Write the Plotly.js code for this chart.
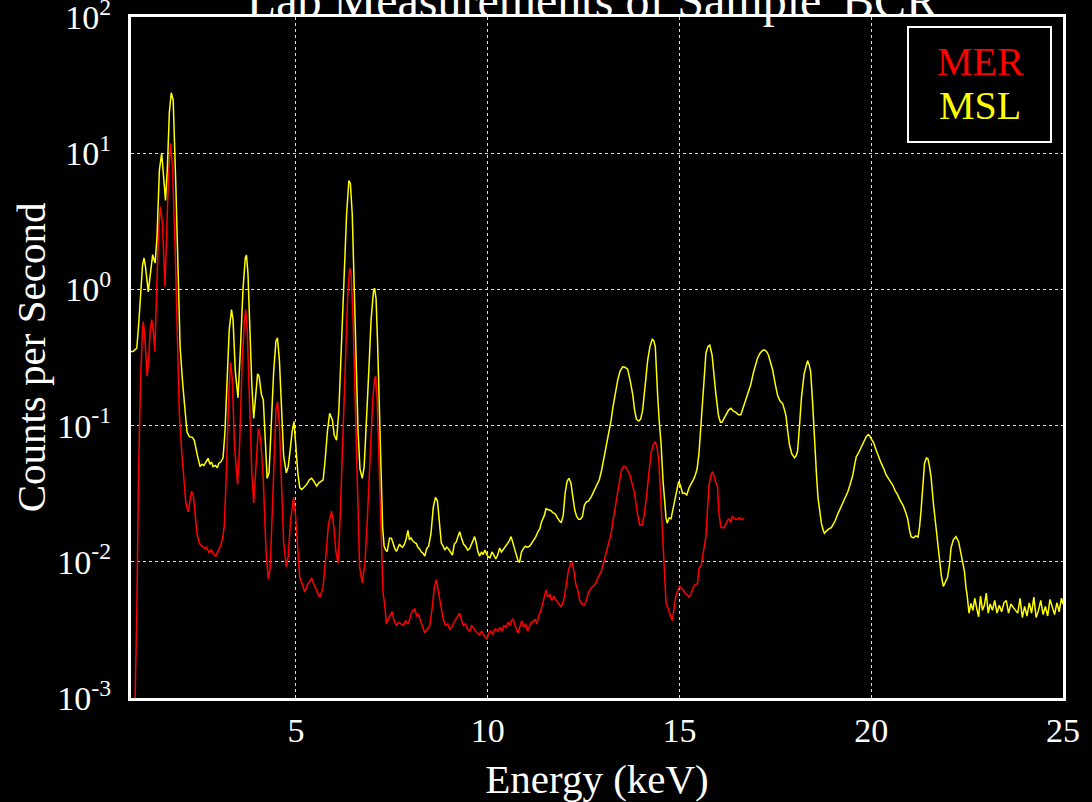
<!DOCTYPE html>
<html>
<head>
<meta charset="utf-8">
<script src="https://cdn.plot.ly/plotly-3.0.1.min.js"></script>
<style>html,body{margin:0;padding:0;background:#000;}#chart{width:1092px;height:802px;}</style>
</head>
<body>
<div id="chart"></div>
<script>
// Series names and colours
const seriesNames = ['MER', 'MSL'];
const seriesColors = ['#ff0000', '#ffff00'];

// Axis ticks
const xTickVals = [5, 10, 15, 20, 25];
const yTickVals = [0.001, 0.01, 0.1, 1, 10, 100];
const yTickText = ['10<sup>-3</sup>', '10<sup>-2</sup>', '10<sup>-1</sup>', '10<sup>0</sup>', '10<sup>1</sup>', '10<sup>2</sup>'];

// MSL spectrum: [energy keV, counts per second]
const mslPoints = [
[0.70,0.35],[0.75,0.35],[0.80,0.36],[0.85,0.37],[0.90,0.55],[0.95,1.0],[1.00,1.5],[1.04,1.7],[1.08,1.45],[1.15,0.96],
[1.20,1.3],[1.265,1.8],[1.30,1.65],[1.33,1.56],[1.38,2.5],[1.44,7.5],[1.50,10.0],[1.55,7.0],[1.60,4.5],[1.65,8],
[1.70,20],[1.75,27.8],[1.80,24.5],[1.87,5.7],[1.93,1.2],[1.98,0.38],[2.05,0.2],[2.11,0.13],[2.16,0.09],[2.22,0.083],
[2.30,0.082],[2.35,0.078],[2.40,0.065],[2.44,0.059],[2.50,0.050],[2.55,0.052],[2.60,0.051],[2.67,0.056],[2.71,0.0575],[2.76,0.052],
[2.80,0.054],[2.84,0.050],[2.90,0.051],[2.95,0.049],[2.99,0.053],[3.04,0.054],[3.10,0.058],[3.15,0.09],[3.20,0.2],[3.26,0.5],
[3.32,0.71],[3.36,0.6],[3.42,0.25],[3.49,0.16],[3.55,0.35],[3.62,1.0],[3.68,1.7],[3.71,1.79],[3.75,1.3],[3.80,0.5],
[3.85,0.2],[3.90,0.113],[3.95,0.16],[4.00,0.24],[4.04,0.23],[4.10,0.17],[4.15,0.154],[4.20,0.08],[4.25,0.041],[4.30,0.045],
[4.36,0.1],[4.42,0.25],[4.48,0.42],[4.52,0.44],[4.57,0.3],[4.62,0.13],[4.68,0.06],[4.75,0.045],[4.80,0.05],[4.86,0.07],
[4.90,0.09],[4.95,0.107],[5.00,0.07],[5.05,0.045],[5.10,0.035],[5.15,0.034],[5.20,0.035],[5.28,0.037],[5.35,0.040],[5.41,0.041],
[5.47,0.039],[5.54,0.036],[5.60,0.038],[5.66,0.039],[5.71,0.040],[5.76,0.055],[5.82,0.09],[5.88,0.123],[5.95,0.11],[6.00,0.085],
[6.06,0.078],[6.12,0.13],[6.18,0.35],[6.25,1.2],[6.32,3.5],[6.38,6.3],[6.42,6.0],[6.47,3.5],[6.52,1.0],[6.57,0.3],
[6.62,0.09],[6.67,0.048],[6.73,0.041],[6.78,0.05],[6.84,0.1],[6.90,0.25],[6.96,0.6],[7.02,0.95],[7.05,1.02],[7.09,0.85],
[7.13,0.4],[7.18,0.12],[7.22,0.04],[7.26,0.018],[7.30,0.013],[7.34,0.0122],[7.38,0.0119],[7.44,0.0149],[7.49,0.0149],[7.53,0.0135],
[7.58,0.0125],[7.62,0.0119],[7.66,0.0128],[7.70,0.0135],[7.74,0.013],[7.78,0.0128],[7.82,0.0133],[7.87,0.0145],[7.92,0.017],[7.96,0.0145],
[8.00,0.015],[8.05,0.0142],[8.10,0.0138],[8.14,0.0136],[8.18,0.0128],[8.22,0.0125],[8.27,0.0118],[8.32,0.0115],[8.36,0.011],[8.41,0.0125],
[8.46,0.013],[8.52,0.016],[8.58,0.025],[8.64,0.0297],[8.69,0.028],[8.74,0.02],[8.79,0.0138],[8.84,0.013],[8.88,0.0122],[8.93,0.0128],
[8.98,0.0124],[9.03,0.0118],[9.08,0.0112],[9.13,0.0135],[9.18,0.014],[9.23,0.0155],[9.27,0.0166],[9.32,0.0148],[9.37,0.0135],[9.42,0.013],
[9.48,0.0122],[9.53,0.0125],[9.58,0.0135],[9.62,0.0145],[9.66,0.0153],[9.70,0.0138],[9.74,0.012],[9.79,0.011],[9.84,0.0118],[9.88,0.0113],
[9.93,0.0122],[9.97,0.0114],[10.02,0.0108],[10.06,0.0107],[10.11,0.0118],[10.16,0.0112],[10.21,0.0105],[10.26,0.0112],[10.31,0.0126],[10.36,0.0118],
[10.41,0.0123],[10.46,0.013],[10.51,0.0135],[10.56,0.0142],[10.61,0.0153],[10.66,0.0138],[10.70,0.0128],[10.75,0.0115],[10.79,0.0102],[10.83,0.0099],
[10.88,0.0118],[10.93,0.0125],[10.98,0.013],[11.03,0.0128],[11.09,0.013],[11.14,0.0136],[11.19,0.0142],[11.25,0.0152],[11.31,0.0166],[11.36,0.0175],
[11.40,0.0195],[11.44,0.0205],[11.48,0.022],[11.52,0.0245],[11.58,0.0242],[11.64,0.0238],[11.70,0.023],[11.76,0.0225],[11.82,0.021],[11.88,0.0198],
[11.92,0.0195],[11.97,0.022],[12.02,0.032],[12.07,0.039],[12.12,0.041],[12.17,0.038],[12.22,0.03],[12.27,0.024],[12.32,0.0215],[12.37,0.0205],
[12.42,0.0205],[12.47,0.0215],[12.52,0.026],[12.57,0.0274],[12.63,0.028],[12.70,0.030],[12.77,0.033],[12.84,0.036],[12.91,0.040],[12.97,0.047],
[13.04,0.059],[13.10,0.072],[13.17,0.088],[13.22,0.11],[13.26,0.134],[13.32,0.17],[13.39,0.216],[13.45,0.25],[13.52,0.27],[13.58,0.268],
[13.65,0.26],[13.72,0.21],[13.78,0.17],[13.83,0.13],[13.88,0.111],[13.94,0.108],[13.99,0.112],[14.04,0.13],[14.09,0.17],[14.13,0.23],
[14.17,0.30],[14.23,0.38],[14.29,0.43],[14.33,0.42],[14.37,0.38],[14.40,0.28],[14.43,0.17],[14.47,0.11],[14.52,0.074],[14.57,0.04],
[14.61,0.027],[14.65,0.021],[14.68,0.0192],[14.73,0.021],[14.78,0.0207],[14.83,0.024],[14.87,0.027],[14.92,0.033],[14.98,0.039],[15.03,0.036],
[15.08,0.0318],[15.13,0.032],[15.19,0.031],[15.25,0.035],[15.30,0.037],[15.36,0.04],[15.41,0.043],[15.46,0.048],[15.51,0.063],[15.56,0.1],
[15.61,0.19],[15.65,0.27],[15.69,0.34],[15.74,0.38],[15.79,0.39],[15.85,0.33],[15.90,0.23],[15.95,0.17],[16.02,0.117],[16.07,0.106],
[16.11,0.106],[16.16,0.112],[16.22,0.12],[16.28,0.13],[16.34,0.134],[16.40,0.128],[16.47,0.125],[16.54,0.12],[16.60,0.12],[16.66,0.135],
[16.73,0.154],[16.80,0.175],[16.86,0.2],[16.92,0.24],[16.98,0.28],[17.03,0.31],[17.10,0.34],[17.16,0.355],[17.21,0.36],[17.27,0.35],
[17.32,0.33],[17.38,0.29],[17.43,0.256],[17.50,0.2],[17.56,0.166],[17.62,0.152],[17.69,0.145],[17.74,0.13],[17.78,0.117],[17.82,0.092],
[17.87,0.072],[17.93,0.062],[18.00,0.058],[18.04,0.06],[18.08,0.065],[18.13,0.1],[18.18,0.16],[18.25,0.24],[18.30,0.28],[18.34,0.30],
[18.38,0.28],[18.42,0.25],[18.47,0.15],[18.52,0.075],[18.57,0.045],[18.61,0.030],[18.66,0.023],[18.70,0.0192],[18.75,0.017],[18.78,0.0162],
[18.83,0.0168],[18.90,0.0175],[18.96,0.0178],[19.00,0.0186],[19.06,0.02],[19.13,0.0225],[19.20,0.025],[19.26,0.0274],[19.33,0.03],[19.39,0.0327],
[19.45,0.037],[19.52,0.0434],[19.57,0.052],[19.61,0.059],[19.68,0.064],[19.74,0.0697],[19.80,0.076],[19.87,0.083],[19.92,0.086],[19.96,0.084],
[20.00,0.08],[20.06,0.075],[20.13,0.066],[20.20,0.058],[20.26,0.053],[20.33,0.048],[20.39,0.0434],[20.47,0.04],[20.56,0.0366],[20.63,0.033],
[20.69,0.031],[20.76,0.028],[20.83,0.026],[20.90,0.023],[20.95,0.0207],[21.00,0.017],[21.04,0.0153],[21.10,0.015],[21.16,0.0155],[21.22,0.0152],
[21.26,0.018],[21.30,0.024],[21.35,0.04],[21.39,0.053],[21.44,0.058],[21.48,0.057],[21.52,0.05],[21.56,0.042],[21.62,0.027],[21.69,0.0173],
[21.74,0.013],[21.78,0.010],[21.83,0.0078],[21.88,0.0066],[21.94,0.0072],[21.99,0.0077],[22.04,0.0095],[22.08,0.0126],[22.14,0.0145],[22.21,0.0153],
[22.28,0.014],[22.34,0.0113],[22.40,0.0095],[22.43,0.0085],[22.47,0.0065],[22.50,0.0057],[22.55,0.0042],[22.60,0.00495],[22.65,0.0044],[22.70,0.0054],
[22.75,0.00455],[22.80,0.00395],[22.85,0.0056],[22.90,0.0044],[22.95,0.0048],[23.00,0.0059],[23.05,0.0042],[23.10,0.0049],[23.16,0.0044],[23.22,0.0052],
[23.28,0.0042],[23.34,0.0048],[23.40,0.0043],[23.46,0.0050],[23.52,0.0052],[23.58,0.0042],[23.64,0.0049],[23.70,0.0046],[23.76,0.0044],[23.82,0.0042],
[23.88,0.0054],[23.94,0.0039],[24.00,0.0047],[24.06,0.0040],[24.12,0.0050],[24.18,0.0042],[24.24,0.0055],[24.30,0.0039],[24.36,0.0044],[24.42,0.0052],
[24.48,0.0041],[24.54,0.0047],[24.60,0.0040],[24.66,0.0053],[24.72,0.0046],[24.78,0.0041],[24.84,0.0050],[24.90,0.0043],[24.96,0.0054],[25.00,0.0049]
];

// MER spectrum: [energy keV, counts per second]
const merPoints = [
[0.80,0.0008],[0.85,0.004],[0.90,0.05],[0.95,0.22],[1.00,0.5],[1.02,0.58],[1.06,0.45],[1.12,0.23],[1.16,0.3],[1.20,0.5],
[1.24,0.6],[1.28,0.5],[1.32,0.35],[1.37,1.0],[1.42,2.8],[1.47,4.05],[1.52,3.0],[1.585,1.05],[1.63,2.5],[1.68,7],
[1.73,11.8],[1.78,8],[1.85,2.06],[1.90,0.6],[1.96,0.123],[2.03,0.06],[2.09,0.035],[2.13,0.027],[2.19,0.0233],[2.24,0.029],
[2.28,0.033],[2.33,0.03],[2.38,0.022],[2.42,0.0162],[2.47,0.014],[2.52,0.0132],[2.57,0.013],[2.62,0.0125],[2.67,0.0128],[2.74,0.0116],
[2.79,0.0123],[2.84,0.0115],[2.91,0.011],[2.96,0.0118],[3.00,0.0125],[3.04,0.0132],[3.09,0.015],[3.13,0.0181],[3.18,0.04],[3.22,0.095],
[3.26,0.2],[3.30,0.29],[3.34,0.22],[3.40,0.07],[3.48,0.037],[3.53,0.07],[3.60,0.3],[3.66,0.6],[3.69,0.71],[3.73,0.5],
[3.79,0.15],[3.85,0.045],[3.90,0.027],[3.95,0.05],[4.00,0.09],[4.02,0.095],[4.08,0.08],[4.15,0.04],[4.22,0.012],[4.28,0.0075],
[4.33,0.009],[4.38,0.025],[4.44,0.08],[4.48,0.13],[4.52,0.15],[4.57,0.1],[4.62,0.04],[4.68,0.014],[4.75,0.0092],[4.80,0.011],
[4.86,0.02],[4.94,0.0297],[4.99,0.022],[5.05,0.011],[5.10,0.0076],[5.17,0.0068],[5.23,0.006],[5.30,0.0068],[5.36,0.0072],[5.41,0.0076],
[5.47,0.0068],[5.54,0.0062],[5.62,0.0055],[5.67,0.006],[5.71,0.0066],[5.78,0.011],[5.85,0.019],[5.93,0.0235],[5.99,0.018],[6.04,0.012],
[6.10,0.0098],[6.15,0.02],[6.22,0.08],[6.29,0.35],[6.35,0.9],[6.40,1.43],[6.44,1.3],[6.49,0.6],[6.55,0.15],[6.60,0.03],
[6.66,0.0092],[6.73,0.0070],[6.80,0.0098],[6.86,0.02],[6.93,0.06],[7.00,0.15],[7.05,0.22],[7.08,0.23],[7.12,0.15],[7.17,0.05],
[7.22,0.014],[7.27,0.006],[7.32,0.0047],[7.36,0.0035],[7.41,0.0038],[7.46,0.0040],[7.51,0.0043],[7.56,0.0037],[7.62,0.0034],[7.68,0.0036],
[7.75,0.0035],[7.80,0.0034],[7.86,0.0037],[7.92,0.0035],[7.97,0.0038],[8.01,0.0042],[8.05,0.0044],[8.10,0.0045],[8.15,0.0040],[8.20,0.0041],
[8.26,0.0036],[8.31,0.0033],[8.36,0.003],[8.42,0.0032],[8.49,0.0034],[8.55,0.0045],[8.61,0.0065],[8.66,0.0074],[8.71,0.0062],[8.75,0.0052],
[8.79,0.0048],[8.84,0.0038],[8.90,0.0034],[8.96,0.0035],[9.01,0.0032],[9.06,0.0033],[9.12,0.0036],[9.17,0.0038],[9.22,0.004],[9.27,0.0042],
[9.32,0.0037],[9.37,0.0034],[9.42,0.0035],[9.48,0.0032],[9.53,0.0031],[9.58,0.0034],[9.63,0.0033],[9.68,0.0031],[9.74,0.003],[9.79,0.0029],
[9.84,0.0031],[9.89,0.0029],[9.93,0.0028],[9.98,0.0027],[10.03,0.003],[10.08,0.0031],[10.13,0.0029],[10.18,0.0032],[10.22,0.0032],[10.27,0.0031],
[10.32,0.0033],[10.37,0.0031],[10.42,0.0034],[10.48,0.0033],[10.53,0.0036],[10.58,0.0034],[10.62,0.0037],[10.66,0.0038],[10.71,0.0034],[10.75,0.0032],
[10.79,0.003],[10.84,0.0034],[10.89,0.0037],[10.94,0.0033],[10.99,0.0035],[11.04,0.0031],[11.09,0.0034],[11.14,0.0036],[11.18,0.0036],[11.23,0.0038],
[11.28,0.0035],[11.33,0.004],[11.39,0.0044],[11.45,0.0052],[11.52,0.0062],[11.57,0.0055],[11.62,0.0058],[11.67,0.0052],[11.72,0.0056],[11.77,0.0053],
[11.83,0.0050],[11.88,0.0048],[11.92,0.0047],[11.98,0.0052],[12.04,0.0065],[12.10,0.0085],[12.16,0.0097],[12.20,0.0099],[12.25,0.0085],[12.30,0.0068],
[12.35,0.0062],[12.40,0.0052],[12.46,0.0049],[12.52,0.0048],[12.57,0.0052],[12.63,0.006],[12.69,0.0064],[12.74,0.0066],[12.80,0.0068],[12.86,0.0075],
[12.92,0.008],[12.96,0.0085],[13.02,0.0098],[13.09,0.0119],[13.15,0.014],[13.22,0.0162],[13.28,0.021],[13.35,0.0284],[13.41,0.037],[13.48,0.046],
[13.54,0.05],[13.59,0.05],[13.65,0.047],[13.71,0.043],[13.77,0.037],[13.83,0.0318],[13.90,0.023],[13.96,0.0186],[14.02,0.0185],[14.08,0.022],
[14.13,0.0284],[14.19,0.04],[14.26,0.063],[14.31,0.072],[14.37,0.076],[14.42,0.068],[14.46,0.056],[14.51,0.03],[14.56,0.0153],[14.61,0.008],
[14.65,0.005],[14.70,0.0046],[14.74,0.0043],[14.78,0.004],[14.81,0.0037],[14.86,0.0045],[14.90,0.0055],[14.95,0.0061],[15.00,0.0066],[15.05,0.0064],
[15.10,0.0062],[15.16,0.0058],[15.21,0.0057],[15.25,0.0055],[15.30,0.0058],[15.36,0.0065],[15.41,0.0068],[15.47,0.0069],[15.51,0.009],[15.56,0.0092],
[15.60,0.011],[15.65,0.0138],[15.69,0.0153],[15.73,0.024],[15.77,0.0362],[15.82,0.043],[15.86,0.046],[15.91,0.042],[15.95,0.038],[15.99,0.0362],
[16.03,0.0227],[16.08,0.018],[16.11,0.0178],[16.16,0.0178],[16.21,0.019],[16.27,0.0205],[16.30,0.0205],[16.34,0.0195],[16.37,0.0214],[16.42,0.021],
[16.48,0.0205],[16.53,0.0208],[16.58,0.021],[16.62,0.0203],[16.65,0.0205],[16.68,0.021]
];

const FONT = '"Liberation Serif", "Times New Roman", serif';

const traces = [merPoints, mslPoints].map((pts, i) => ({
  type: 'scatter',
  mode: 'lines',
  name: seriesNames[i],
  x: pts.map(p => p[0]),
  y: pts.map(p => p[1]),
  line: {color: seriesColors[i], width: 1.5},
  showlegend: false,
  hoverinfo: 'x+y+name'
}));

// Legend entries drawn inside a boxed area (paper coords)
const legendAnn = seriesNames.map((nm, i) => ({
  xref: 'paper', yref: 'paper',
  x: 0.911, y: 0.934 - i * 0.0646,
  xanchor: 'center', yanchor: 'middle',
  text: nm, showarrow: false,
  font: {family: FONT, size: 40, color: seriesColors[i]}
}));

const layout = {
  width: 1092, height: 802,
  paper_bgcolor: '#000', plot_bgcolor: '#000',
  margin: {l: 131, r: 29, t: 17, b: 104, pad: 0},
  title: {
    text: "Lab Measurements of Sample 'BCR'",
    font: {family: FONT, size: 48, color: '#fff'},
    x: 0.5465, xanchor: 'center', xref: 'container',
    y: 1, yanchor: 'middle', yref: 'container'
  },
  xaxis: {
    range: [0.7, 25],
    tickvals: xTickVals,
    ticktext: xTickVals.map(String),
    tickfont: {family: FONT, size: 34, color: '#fff'},
    ticks: '', ticklabelstandoff: 0,
    ticklabeloverflow: 'allow',
    showgrid: true, gridcolor: '#dddddd', griddash: 'dot', gridwidth: 1,
    showline: true, linecolor: '#fff', linewidth: 3, mirror: true,
    zeroline: false,
    title: {text: 'Energy (keV)', font: {family: FONT, size: 41, color: '#fff'}, standoff: 18},
    automargin: false
  },
  yaxis: {
    type: 'log',
    range: [-3, 2],
    tickvals: yTickVals,
    ticktext: yTickText,
    tickfont: {family: FONT, size: 34, color: '#fff'},
    ticks: '', ticklabelstandoff: 10,
    ticklabeloverflow: 'allow',
    showgrid: true, gridcolor: '#dddddd', griddash: 'dot', gridwidth: 1,
    showline: true, linecolor: '#fff', linewidth: 3, mirror: true,
    zeroline: false,
    title: {text: 'Counts per Second', font: {family: FONT, size: 41, color: '#fff'}, standoff: 0},
    automargin: false
  },
  shapes: [{
    type: 'rect', xref: 'paper', yref: 'paper',
    x0: 0.8337, x1: 0.9871, y0: 0.8164, y1: 0.9853,
    line: {color: '#fff', width: 2}, fillcolor: '#000', layer: 'above'
  }],
  annotations: legendAnn,
  showlegend: false
};

Plotly.newPlot('chart', traces, layout, {displayModeBar: false, staticPlot: true});
</script>
</body>
</html>
